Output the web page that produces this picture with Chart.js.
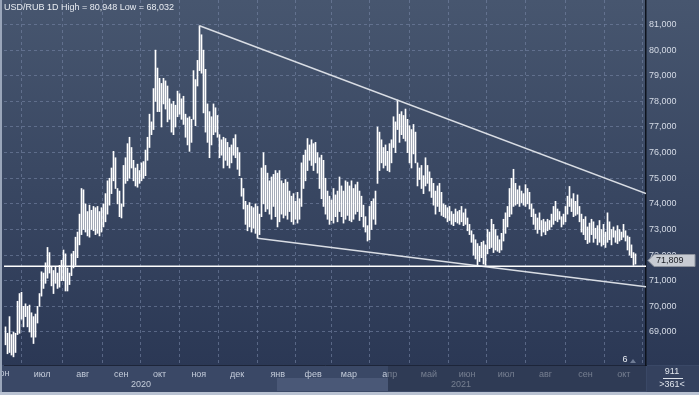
<!DOCTYPE html>
<html><head><meta charset="utf-8">
<script src="https://cdn.jsdelivr.net/npm/chart.js@4/dist/chart.umd.min.js"></script>
<style>html,body{margin:0;padding:0;background:#2c3955;overflow:hidden}canvas{display:block}</style>
</head><body>
<canvas id="c" width="699" height="395"></canvas>
<script>
// ---- data (daily bars, USD/RUB, high / low) ----
const highs = [
69.2,68.95,69.6,68.9,69.0,68.95,70.2,70.5,70.55,70.0,
70.1,70.0,70.05,69.75,69.6,69.7,70.0,70.5,71.35,71.3,
71.7,72.3,72.1,71.55,71.4,71.55,71.3,71.6,71.8,72.2,
72.05,71.5,71.3,72.05,72.15,72.7,72.9,73.6,74.6,74.55,
74.0,73.7,73.95,73.75,73.9,73.85,73.9,73.7,73.85,74.0,
74.4,74.9,75.0,75.4,76.05,75.8,74.6,74.5,74.0,75.5,
75.8,76.35,76.6,76.2,75.7,75.4,75.55,75.3,75.6,75.65,
76.1,76.6,77.5,77.2,78.5,80.0,79.3,78.9,78.7,78.9,
78.8,78.6,78.1,77.9,78.0,77.85,78.4,78.3,78.1,78.2,
77.5,77.35,77.4,77.3,79.2,78.85,79.6,80.95,80.6,80.0,
79.25,77.9,77.6,77.4,77.9,77.75,77.45,76.7,76.5,76.6,
76.55,76.4,76.2,76.3,76.55,76.7,76.2,76.0,75.0,74.6,
74.1,73.95,74.05,73.9,73.85,74.0,73.9,73.6,75.4,76.0,
75.5,75.2,74.9,75.05,75.15,75.3,75.2,75.3,74.9,74.8,
74.95,74.85,74.5,74.3,74.4,74.1,74.45,74.2,75.6,75.9,
76.1,76.55,76.3,76.5,76.35,76.4,76.0,75.8,75.9,75.7,
75.0,74.5,74.3,74.15,74.6,74.35,74.5,75.05,74.7,74.5,
74.9,74.85,74.7,74.9,74.6,74.75,74.85,74.5,74.3,73.95,
73.5,73.15,73.9,74.1,74.2,74.5,77.0,76.8,76.5,76.2,
76.3,76.05,76.35,76.5,77.4,77.2,78.05,77.5,77.6,77.45,
77.7,77.3,77.05,76.9,77.1,76.8,75.6,75.4,75.5,75.1,
75.8,75.5,75.25,75.0,74.8,74.5,74.7,74.8,74.45,74.0,
73.95,73.85,73.9,73.7,73.6,73.8,73.7,73.75,73.9,73.65,
73.8,73.45,73.2,72.95,72.8,72.6,72.45,72.35,72.5,72.55,
72.4,73.0,72.9,73.4,73.2,73.0,72.75,72.6,72.85,73.4,
73.65,73.9,74.6,75.0,75.35,74.8,74.55,74.7,74.5,74.4,
74.75,74.6,74.45,74.0,73.8,73.6,73.45,73.65,73.35,73.4,
73.3,73.4,73.35,73.6,73.9,74.1,73.8,73.7,73.5,73.6,
73.9,74.3,74.68,74.2,74.4,74.1,74.35,73.9,73.6,73.4,
73.5,73.1,73.25,73.4,73.3,73.05,73.15,73.35,73.0,73.2,
72.9,73.65,73.3,73.0,73.1,72.95,73.15,73.0,72.9,73.2,
72.95,72.75,72.7,72.4,72.1,72.05
];
const lows = [
68.5,68.15,68.2,68.1,68.03,68.2,68.9,68.95,69.5,69.2,
69.6,69.2,69.0,68.8,68.55,68.8,69.35,70.0,70.4,70.7,
70.9,71.1,71.3,70.8,70.5,70.9,70.7,70.75,71.0,71.0,
70.6,70.6,70.85,71.2,71.5,71.6,71.9,72.4,72.8,73.0,
72.9,72.75,72.7,73.0,72.95,72.8,72.85,72.75,72.9,73.1,
73.3,73.6,73.95,74.4,74.9,74.6,74.0,73.5,73.45,73.9,
74.8,74.9,75.0,75.4,74.9,74.7,74.65,74.8,74.9,75.0,
75.1,75.7,76.2,76.7,76.9,78.0,77.6,77.6,77.0,77.9,
77.7,77.2,77.3,76.8,76.7,77.0,77.4,77.5,77.3,77.1,
76.6,76.3,76.05,76.4,77.3,77.05,78.6,79.2,79.1,77.55,
76.8,76.4,75.8,76.3,76.7,76.8,76.6,75.8,75.9,75.4,
75.7,75.5,75.4,75.6,75.9,75.8,75.35,75.1,74.3,73.8,
73.2,72.95,73.1,72.9,73.05,72.85,72.66,72.8,73.5,74.0,
73.7,73.8,73.6,73.4,73.9,73.5,73.1,73.3,73.6,73.45,
73.55,73.4,73.7,73.3,73.2,73.4,73.25,73.4,73.9,74.6,
74.9,75.3,75.7,75.5,75.3,75.6,75.2,74.6,74.2,73.9,
73.6,73.4,73.2,73.35,73.25,73.5,73.3,73.7,73.5,73.25,
73.4,73.55,73.35,73.3,73.4,73.6,73.7,73.35,73.5,73.1,
72.9,72.55,72.6,73.0,73.4,73.2,74.8,75.3,75.6,75.4,
75.5,75.3,75.25,75.6,76.2,76.0,76.9,76.4,76.7,76.55,
76.45,76.0,75.6,75.4,75.95,75.6,74.7,74.95,74.6,74.4,
74.7,74.8,74.5,74.25,73.95,73.6,73.9,73.7,73.55,73.5,
73.45,73.3,73.35,73.2,73.15,73.3,73.25,73.2,73.3,73.15,
73.2,72.95,72.8,72.5,72.0,71.85,71.56,71.75,71.9,71.65,
71.6,72.05,72.25,72.3,72.1,72.2,72.15,72.1,72.2,72.55,
72.85,73.1,73.5,73.6,73.9,73.95,74.0,73.9,74.05,73.95,
73.9,74.0,73.8,73.5,73.2,73.0,72.85,73.0,72.75,72.9,
72.8,72.95,73.0,73.1,73.2,73.35,73.3,73.4,73.1,73.2,
73.3,73.6,73.9,73.7,73.5,73.55,73.6,73.3,72.9,72.8,
72.6,72.45,72.5,72.8,72.5,72.65,72.4,72.5,72.35,72.4,
72.3,72.5,72.6,72.4,72.7,72.5,72.45,72.55,72.6,72.7,
72.55,72.2,72.0,71.9,71.6,71.65
];
// month boundaries, in bar-index units
const monthTicks  = [18.35,38.65,57.85,77,96.65,115.85,136.15,153.85,171.65,192.15,211.65,230.85,250.35,270,290,309.15];
const monthLabels = ['июл','авг','сен','окт','ноя','дек','янв','фев','мар','апр','май','июн','июл','авг','сен','окт'];
const yTicks = [69,70,71,72,73,74,75,76,77,78,79,80,81];
const resistanceLine = [{x:97,y:80.95},{x:320.25,y:74.4}];
const supportTrend   = [{x:126,y:72.66},{x:320.25,y:70.77}];
const supportLevel   = [{x:-0.75,y:71.57},{x:320.25,y:71.57}];
const titleText = 'USD/RUB 1D High = 80,948 Low = 68,032';
const lastPrice = '71,809';
const lastPriceValue = 71.809;

const FONT = '"Liberation Sans", Arial, sans-serif';

const deco = {
  id: 'deco',
  beforeDraw(chart) {
    const ctx = chart.ctx;
    ctx.save();
    const g = ctx.createLinearGradient(0, 0, 0, 365);
    g.addColorStop(0, '#47566f');
    g.addColorStop(1, '#2b3855');
    ctx.fillStyle = g;
    ctx.fillRect(0, 0, 699, 365);
    ctx.fillStyle = '#3a4866';
    ctx.fillRect(0, 365, 699, 30);
    ctx.fillStyle = '#4a5877';
    ctx.fillRect(277, 378, 111, 13);
    ctx.restore();
  },
  afterDraw(chart) {
    const ctx = chart.ctx;
    const ys = chart.scales.y;
    ctx.save();
    ctx.font = '9px ' + FONT;
    ctx.textBaseline = 'middle';
    ctx.fillStyle = '#e8ecf2';
    ctx.textAlign = 'left';
    ctx.fillText(titleText, 4, 8);
    ctx.fillStyle = '#c4ccda';
    ctx.textAlign = 'center';
    ctx.fillText('июн', 1, 374);
    ctx.fillText('2020', 141, 385);
    ctx.fillText('2021', 461, 385);
    ctx.fillStyle = 'rgba(36,46,68,0.5)';
    ctx.fillRect(388, 366, 258, 25);
    ctx.fillStyle = '#34415e';
    ctx.fillRect(647, 366, 52, 26);
    ctx.fillStyle = '#dfe4ec';
    ctx.fillText('911', 672, 372);
    ctx.fillRect(663, 378, 20, 1);
    ctx.fillText('>361<', 672, 385);
    ctx.fillStyle = '#e8ecf2';
    ctx.fillText('6', 625, 360);
    ctx.fillStyle = '#6f7c95';
    ctx.beginPath(); ctx.moveTo(630, 363); ctx.lineTo(633, 359); ctx.lineTo(636, 363); ctx.closePath(); ctx.fill();
    const py = Math.round(ys.getPixelForValue(lastPriceValue)) + 0.5;
    ctx.beginPath();
    ctx.moveTo(648, py);
    ctx.lineTo(654, py - 6);
    ctx.lineTo(695, py - 6);
    ctx.lineTo(695, py + 6);
    ctx.lineTo(654, py + 6);
    ctx.closePath();
    ctx.fillStyle = '#c8ccd3';
    ctx.fill();
    ctx.strokeStyle = '#8d939e';
    ctx.lineWidth = 1;
    ctx.stroke();
    ctx.fillStyle = '#1c1f26';
    ctx.textAlign = 'left';
    ctx.fillText(lastPrice, 656, py);
    ctx.fillStyle = '#9aa6ba';
    ctx.fillRect(0, 0, 2, 395);
    ctx.fillStyle = '#b9c2d2';
    ctx.fillRect(0, 392, 699, 3);
    ctx.restore();
  }
};

const gridColor = 'rgba(118,134,165,0.6)';

new Chart(document.getElementById('c'), {
  type: 'bar',
  data: {
    datasets: [
      { type: 'line', data: supportLevel, borderColor: '#ffffff', borderWidth: 1.5, pointRadius: 0, fill: false, order: 0 },
      { type: 'line', data: resistanceLine, borderColor: '#d9dde4', borderWidth: 1.5, pointRadius: 0, fill: false, order: 0 },
      { type: 'line', data: supportTrend, borderColor: '#d9dde4', borderWidth: 1.5, pointRadius: 0, fill: false, order: 0 },
      { type: 'bar', data: highs.map((h, i) => ({ x: i, y: [lows[i], h] })), backgroundColor: '#ffffff', borderWidth: 0, barThickness: 1, order: 1 }
    ]
  },
  options: {
    responsive: false,
    animation: false,
    devicePixelRatio: 1,
    layout: { padding: { left: 4, right: 0, top: 0, bottom: 0 }, autoPadding: false },
    plugins: { legend: { display: false }, tooltip: { enabled: false } },
    scales: {
      x: {
        type: 'linear', min: -0.75, max: 320.25, offset: false,
        afterBuildTicks: s => { s.ticks = monthTicks.map(v => ({ value: v })); },
        afterFit: s => { s.height = 30; s.paddingLeft = 0; s.paddingRight = 0; },
        ticks: { autoSkip: false, maxRotation: 0, padding: 4, color: '#c4ccda', font: { size: 9, family: FONT },
                 callback: (v, i) => monthLabels[i] },
        grid: { color: gridColor, drawTicks: false, tickLength: 0 },
        border: { display: true, color: '#1d2539', width: 1, dash: [3, 3] }
      },
      y: {
        position: 'right', min: 67.712, max: 81.956,
        afterBuildTicks: s => { s.ticks = yTicks.map(v => ({ value: v })); },
        afterFit: s => { s.width = 53; s.paddingTop = 0; s.paddingBottom = 0; },
        ticks: { padding: 3, color: '#d5dbe6', font: { size: 9, family: FONT },
                 callback: v => Number(v).toFixed(3).replace('.', ',') },
        grid: { color: gridColor, drawTicks: false, tickLength: 0 },
        border: { display: true, color: '#0d121c', width: 1.5, dash: [3, 3] }
      }
    }
  },
  plugins: [deco]
});
</script>
</body></html>
